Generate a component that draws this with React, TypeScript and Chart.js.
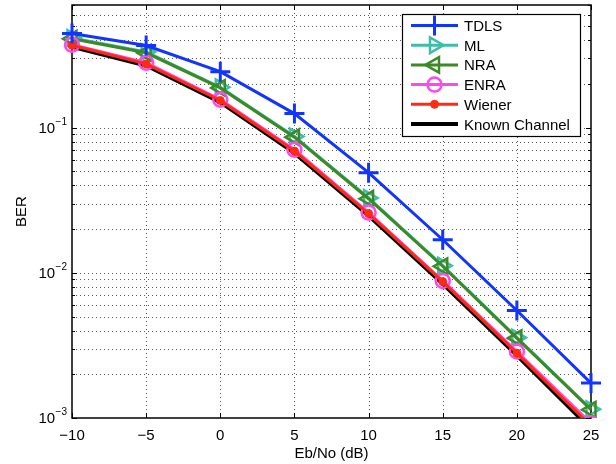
import React, { useEffect, useRef } from 'react';
import { Chart, registerables } from 'chart.js';

Chart.register(...registerables);

// ---- data ----
const snrDb = [-10, -5, 0, 5, 10, 15, 20, 25];
const berTDLS = [0.445, 0.368, 0.243, 0.125, 0.049, 0.0169, 0.0055, 0.00174];
const berML = [0.415, 0.333, 0.19, 0.087, 0.0328, 0.0112, 0.00358, 0.00115];
const berNRA = [0.41, 0.328, 0.188, 0.086, 0.0324, 0.0111, 0.00355, 0.00114];
const berENRA = [0.373, 0.28, 0.156, 0.0705, 0.026, 0.0088, 0.00287, 0.00092];
const berWiener = [0.37, 0.275, 0.154, 0.069, 0.0256, 0.0087, 0.0028, 0.00088];
const berKnown = [0.36, 0.268, 0.15, 0.067, 0.0248, 0.0084, 0.0027, 0.00084];

const xTickValues = [-10, -5, 0, 5, 10, 15, 20, 25];
const yDecades = [0.001, 0.01, 0.1];
const yDecadeExponents = ['−3', '−2', '−1'];
const xMin = -10;
const xMax = 25;
const yMin = 0.001;
const yMax = 0.7;

const seriesNames = ['TDLS', 'ML', 'NRA', 'ENRA', 'Wiener', 'Known Channel'];
const xLabel = 'Eb/No (dB)';
const yLabel = 'BER';

const FONT = '"Liberation Sans", Arial, Helvetica, sans-serif';

type Marker = { style: string; radius: number; rotation: number; fill: boolean; width: number };

const seriesColors = ['#1234ff', '#3cbfa8', '#3b8a26', '#ff48f0', '#ff2a12', '#000000'];
const seriesLineWidths = [3, 3, 3, 3, 3, 4];
const seriesMarkers: (Marker | null)[] = [
  { style: 'cross', radius: 10, rotation: 0, fill: false, width: 3 },
  { style: 'triangle', radius: 9, rotation: 90, fill: false, width: 2.5 },
  { style: 'triangle', radius: 9, rotation: -90, fill: false, width: 2.5 },
  { style: 'circle', radius: 7, rotation: 0, fill: false, width: 2.5 },
  { style: 'circle', radius: 4, rotation: 0, fill: true, width: 1 },
  null,
];
const seriesOrder = [1, 5, 4, 3, 2, 6];
const seriesData = [berTDLS, berML, berNRA, berENRA, berWiener, berKnown];

function drawMarker(ctx: CanvasRenderingContext2D, m: Marker, x: number, y: number, color: string) {
  ctx.save();
  ctx.strokeStyle = color;
  ctx.fillStyle = color;
  ctx.lineWidth = m.width;
  ctx.setLineDash([]);
  ctx.beginPath();
  const r = m.radius;
  if (m.style === 'cross') {
    ctx.moveTo(x - r, y);
    ctx.lineTo(x + r, y);
    ctx.moveTo(x, y - r);
    ctx.lineTo(x, y + r);
    ctx.stroke();
  } else if (m.style === 'triangle') {
    let rad = (m.rotation * Math.PI) / 180;
    const step = (2 * Math.PI) / 3;
    ctx.moveTo(x + Math.sin(rad) * r, y - Math.cos(rad) * r);
    rad += step;
    ctx.lineTo(x + Math.sin(rad) * r, y - Math.cos(rad) * r);
    rad += step;
    ctx.lineTo(x + Math.sin(rad) * r, y - Math.cos(rad) * r);
    ctx.closePath();
    ctx.stroke();
  } else {
    ctx.arc(x, y, r, 0, Math.PI * 2);
    if (m.fill) ctx.fill();
    ctx.stroke();
  }
  ctx.restore();
}

const matlabAxes = {
  id: 'matlabAxes',
  beforeDatasetsDraw(chart: any) {
    const { ctx, chartArea } = chart;
    const { left, right, top, bottom } = chartArea;
    const xs = chart.scales.x;
    const ys = chart.scales.y;
    ctx.save();
    // dotted grid
    ctx.strokeStyle = 'rgba(0,0,0,0.65)';
    ctx.lineWidth = 1;
    ctx.setLineDash([1, 3]);
    ctx.beginPath();
    for (const v of xTickValues) {
      if (v <= xMin || v >= xMax) continue;
      const px = Math.round(xs.getPixelForValue(v)) + 0.5;
      ctx.moveTo(px, top);
      ctx.lineTo(px, bottom);
    }
    for (const d of yDecades) {
      for (let m = 1; m <= 9; m++) {
        const v = m * d;
        if (v <= yMin * 1.0001 || v >= yMax * 0.9999) continue;
        const py = Math.round(ys.getPixelForValue(v)) + 0.5;
        ctx.moveTo(left, py);
        ctx.lineTo(right, py);
      }
    }
    ctx.stroke();
    ctx.setLineDash([]);
    // ticks
    ctx.strokeStyle = '#000';
    ctx.lineWidth = 1;
    ctx.beginPath();
    for (const v of xTickValues) {
      const px = Math.round(xs.getPixelForValue(v)) + 0.5;
      ctx.moveTo(px, bottom);
      ctx.lineTo(px, bottom - 5);
      ctx.moveTo(px, top);
      ctx.lineTo(px, top + 5);
    }
    for (const d of yDecades) {
      for (let m = 1; m <= 9; m++) {
        const v = m * d;
        if (v < yMin * 0.9999 || v > yMax * 1.0001) continue;
        const len = m === 1 ? 5 : 3;
        const py = Math.round(ys.getPixelForValue(v)) + 0.5;
        ctx.moveTo(left, py);
        ctx.lineTo(left + len, py);
        ctx.moveTo(right, py);
        ctx.lineTo(right - len, py);
      }
    }
    ctx.stroke();
    // box
    ctx.lineWidth = 1.5;
    ctx.strokeRect(left, top, right - left, bottom - top);
    ctx.restore();
  },
  afterDraw(chart: any) {
    const { ctx, chartArea } = chart;
    const { left, right, top, bottom } = chartArea;
    const xs = chart.scales.x;
    const ys = chart.scales.y;
    ctx.save();
    ctx.fillStyle = '#000';
    // x tick labels
    ctx.font = `15px ${FONT}`;
    ctx.textAlign = 'center';
    ctx.textBaseline = 'alphabetic';
    for (const v of xTickValues) {
      const px = xs.getPixelForValue(v);
      const label = v < 0 ? '−' + Math.abs(v) : String(v);
      ctx.fillText(label, px, bottom + 22);
    }
    // y tick labels (10^e)
    yDecades.forEach((d, i) => {
      const py = ys.getPixelForValue(d);
      const sup = yDecadeExponents[i];
      ctx.font = `10px ${FONT}`;
      ctx.textAlign = 'right';
      const sw = ctx.measureText(sup).width;
      const endX = left - 5;
      ctx.fillText(sup, endX, py - 3);
      ctx.font = `15px ${FONT}`;
      ctx.fillText('10', endX - sw - 0.5, py + 5);
    });
    // axis titles
    ctx.font = `15px ${FONT}`;
    ctx.textAlign = 'center';
    ctx.fillText(xLabel, (left + right) / 2, bottom + 40);
    ctx.save();
    ctx.translate(26, (top + bottom) / 2);
    ctx.rotate(-Math.PI / 2);
    ctx.fillText(yLabel, 0, 0);
    ctx.restore();

    // legend
    const bx = 402, by = 14, bw = 178, bh = 122;
    ctx.fillStyle = '#fff';
    ctx.fillRect(bx, by, bw, bh);
    ctx.strokeStyle = '#000';
    ctx.lineWidth = 1.2;
    ctx.strokeRect(bx + 0.5, by + 0.5, bw, bh);
    seriesNames.forEach((name, i) => {
      const cy = 25.5 + i * 19.7;
      ctx.save();
      ctx.strokeStyle = seriesColors[i];
      ctx.lineWidth = seriesLineWidths[i];
      ctx.beginPath();
      ctx.moveTo(411, cy);
      ctx.lineTo(458, cy);
      ctx.stroke();
      ctx.restore();
      const m = seriesMarkers[i];
      if (m) drawMarker(ctx, m, 434.5, cy, seriesColors[i]);
      ctx.fillStyle = '#000';
      ctx.font = `15px ${FONT}`;
      ctx.textAlign = 'left';
      ctx.textBaseline = 'alphabetic';
      ctx.fillText(name, 464, cy + 5.5);
    });
    ctx.restore();
  },
};

export default function App() {
  const canvasRef = useRef<HTMLCanvasElement | null>(null);

  useEffect(() => {
    const canvas = canvasRef.current;
    if (!canvas) return;
    const datasets = seriesNames.map((name, i) => {
      const m = seriesMarkers[i];
      return {
        label: name,
        data: snrDb.map((x, k) => ({ x, y: seriesData[i][k] })),
        borderColor: seriesColors[i],
        backgroundColor: m && m.fill ? seriesColors[i] : 'rgba(0,0,0,0)',
        borderWidth: seriesLineWidths[i],
        pointStyle: m ? m.style : false,
        pointRadius: m ? m.radius : 0,
        pointRotation: m ? m.rotation : 0,
        pointBorderWidth: m ? m.width : 0,
        pointBorderColor: seriesColors[i],
        pointBackgroundColor: m && m.fill ? seriesColors[i] : 'rgba(0,0,0,0)',
        pointHoverRadius: m ? m.radius : 0,
        tension: 0,
        fill: false,
        order: seriesOrder[i],
        clip: { left: 14, right: 14, top: 0, bottom: 0 },
      };
    });
    const chart = new Chart(canvas, {
      type: 'line',
      data: { datasets },
      options: {
        animation: false,
        responsive: false,
        devicePixelRatio: 1,
        events: [],
        layout: { autoPadding: false, padding: { top: 5, right: 25, left: 0, bottom: 0 } },
        plugins: { legend: { display: false }, tooltip: { enabled: false }, title: { display: false } },
        scales: {
          x: {
            type: 'linear',
            min: xMin,
            max: xMax,
            ticks: { display: false },
            grid: { display: false },
            border: { display: false },
            afterFit: (s: any) => { s.height = 46; },
          },
          y: {
            type: 'logarithmic',
            min: yMin,
            max: yMax,
            ticks: { display: false },
            grid: { display: false },
            border: { display: false },
            afterFit: (s: any) => { s.width = 72; },
          },
        },
      } as any,
      plugins: [matlabAxes],
    });
    return () => chart.destroy();
  }, []);

  return (
    <div style={{ position: 'absolute', left: 0, top: 0, width: 616, height: 464, background: '#fff' }}>
      <canvas ref={canvasRef} width={616} height={464} style={{ display: 'block' }} />
    </div>
  );
}
